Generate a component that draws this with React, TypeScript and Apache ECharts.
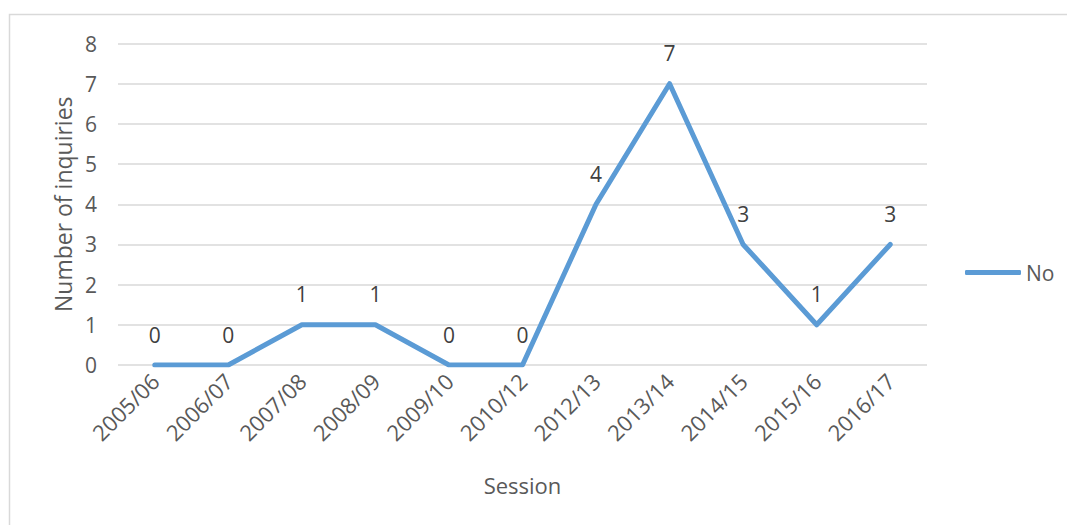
import React, { useEffect, useRef } from "react";
import * as echarts from "echarts";

const sessions = [
  "2005/06",
  "2006/07",
  "2007/08",
  "2008/09",
  "2009/10",
  "2010/12",
  "2012/13",
  "2013/14",
  "2014/15",
  "2015/16",
  "2016/17",
];
const inquiries = [0, 0, 1, 1, 0, 0, 4, 7, 3, 1, 3];
const seriesName = "No";
const yTicks = [0, 1, 2, 3, 4, 5, 6, 7, 8];

const FONT = "'Open Sans', 'Noto Sans', sans-serif";
const TEXT = "#595959";
const BLUE = "#5b9bd5";

export default function App() {
  const ref = useRef<HTMLDivElement>(null);

  useEffect(() => {
    if (!ref.current) return;
    const chart = echarts.init(ref.current, undefined, { renderer: "svg" });
    chart.setOption({
      animation: false,
      backgroundColor: "#ffffff",
      textStyle: { fontFamily: FONT },
      graphic: [
        {
          type: "rect",
          shape: { x: 9.5, y: 14.5, width: 1200, height: 700 },
          style: { fill: "none", stroke: "#d9d9d9", lineWidth: 1.5 },
          silent: true,
        },
      ],
      grid: { left: 118, right: 140, top: 43.5, bottom: 160 },
      legend: {
        left: 960,
        top: 257,
        icon: "roundRect",
        itemWidth: 56,
        itemHeight: 5,
        itemGap: 4,
        textStyle: { fontSize: 21, color: TEXT, fontFamily: FONT },
        data: [seriesName],
      },
      xAxis: {
        type: "category",
        data: sessions,
        boundaryGap: true,
        name: "Session",
        nameLocation: "middle",
        nameGap: 109,
        nameTextStyle: { fontSize: 22, color: TEXT, fontFamily: FONT },
        axisLine: { show: false },
        axisTick: { show: false },
        axisLabel: {
          rotate: 45,
          fontSize: 22,
          color: TEXT,
          fontFamily: FONT,
          margin: 12,
          interval: 0,
        },
      },
      yAxis: {
        type: "value",
        min: yTicks[0],
        max: yTicks[yTicks.length - 1],
        interval: 1,
        name: "Number of inquiries",
        nameLocation: "middle",
        nameRotate: 90,
        nameGap: 44,
        nameTextStyle: { fontSize: 23, color: TEXT, fontFamily: FONT },
        axisLine: { show: false },
        axisTick: { show: false },
        axisLabel: { fontSize: 21, color: TEXT, fontFamily: FONT, margin: 21 },
        splitLine: { lineStyle: { color: "#d9d9d9", width: 1.5 } },
      },
      series: [
        {
          name: seriesName,
          type: "line",
          data: inquiries,
          symbol: "circle",
          symbolSize: 0,
          showSymbol: true,
          color: BLUE,
          itemStyle: { color: BLUE },
          lineStyle: { color: BLUE, width: 5, cap: "round", join: "round" },
          label: {
            show: true,
            position: "top",
            distance: 20,
            fontSize: 21,
            color: "#404040",
            fontFamily: FONT,
          },
        },
      ],
    });
    return () => chart.dispose();
  }, []);

  return (
    <div
      ref={ref}
      style={{ position: "fixed", left: 0, top: 0, width: 1067, height: 525, background: "#fff" }}
    />
  );
}
